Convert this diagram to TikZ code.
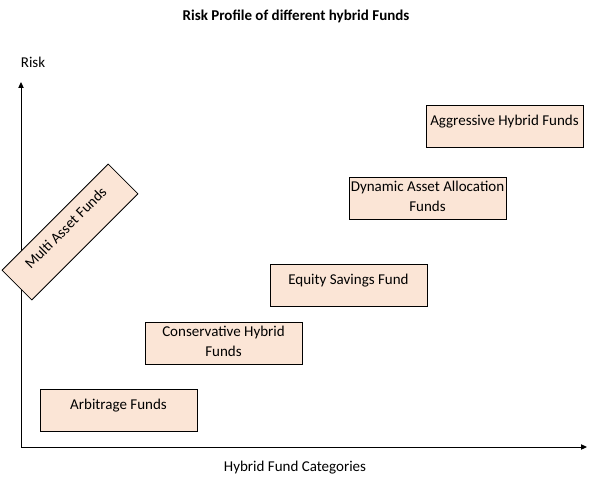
\documentclass[tikz,border=0pt]{standalone}
\usepackage{fontspec}
\setmainfont{Carlito}
\usetikzlibrary{arrows.meta}
\definecolor{fundfill}{HTML}{FBE5D6}
\definecolor{ink}{HTML}{000000}
\tikzset{
  >={Triangle[length=4.5pt,width=4pt]},
  every node/.style={font=\fontsize{11.25pt}{15pt}\selectfont,text=ink},
  fundbox/.style={draw=ink,line width=0.6pt,fill=fundfill,inner sep=0pt,minimum width=117.75pt,minimum height=31.5pt},
  axis/.style={->,line width=0.75pt,draw=ink},
  heading/.style={font=\fontsize{11.25pt}{13pt}\selectfont\bfseries},
}
\newcommand{\oneline}[2][117.75pt]{\parbox[c][31.5pt][t]{#1}{\centering\rule{0pt}{15pt}#2}}
\newcommand{\twoline}[2]{\parbox[c][31.5pt][t]{117.75pt}{\centering\rule{0pt}{10.8pt}#1\\#2}}

\begin{document}
\begin{tikzpicture}[x=0.75pt,y=-0.75pt]
\useasboundingbox (0,0) rectangle (591,481);

% axes
\coordinate (origin) at (21,447);
\coordinate (ytip) at (21,82);
\coordinate (xtip) at (587,447);
\draw[axis] (origin) -- (ytip);
\draw[axis] (origin) -- (xtip);

\node[heading] (title) at (296,16) {Risk Profile of different hybrid Funds};
\node (risk) at (33,62) {Risk};
\node (categories) at (295,468) {Hybrid Fund Categories};

% fund categories
\node[fundbox] (arbitrage) at (118.5,410) {\oneline{Arbitrage Funds}};
\node[fundbox] (conservative) at (223.5,343) {\twoline{Conservative Hybrid}{Funds}};
\node[fundbox] (equity) at (348.5,285) {\oneline{Equity Savings Fund}};
\node[fundbox] (dynamic) at (427.5,198.5) {\twoline{Dynamic Asset Allocation}{Funds}};
\node[fundbox] (aggressive) at (504.5,126) {\oneline{Aggressive Hybrid Funds}};
\node[fundbox,minimum width=112.5pt,rotate=45] (multi) at (70,232) {\oneline[112.5pt]{Multi Asset Funds}};

\end{tikzpicture}
\end{document}
